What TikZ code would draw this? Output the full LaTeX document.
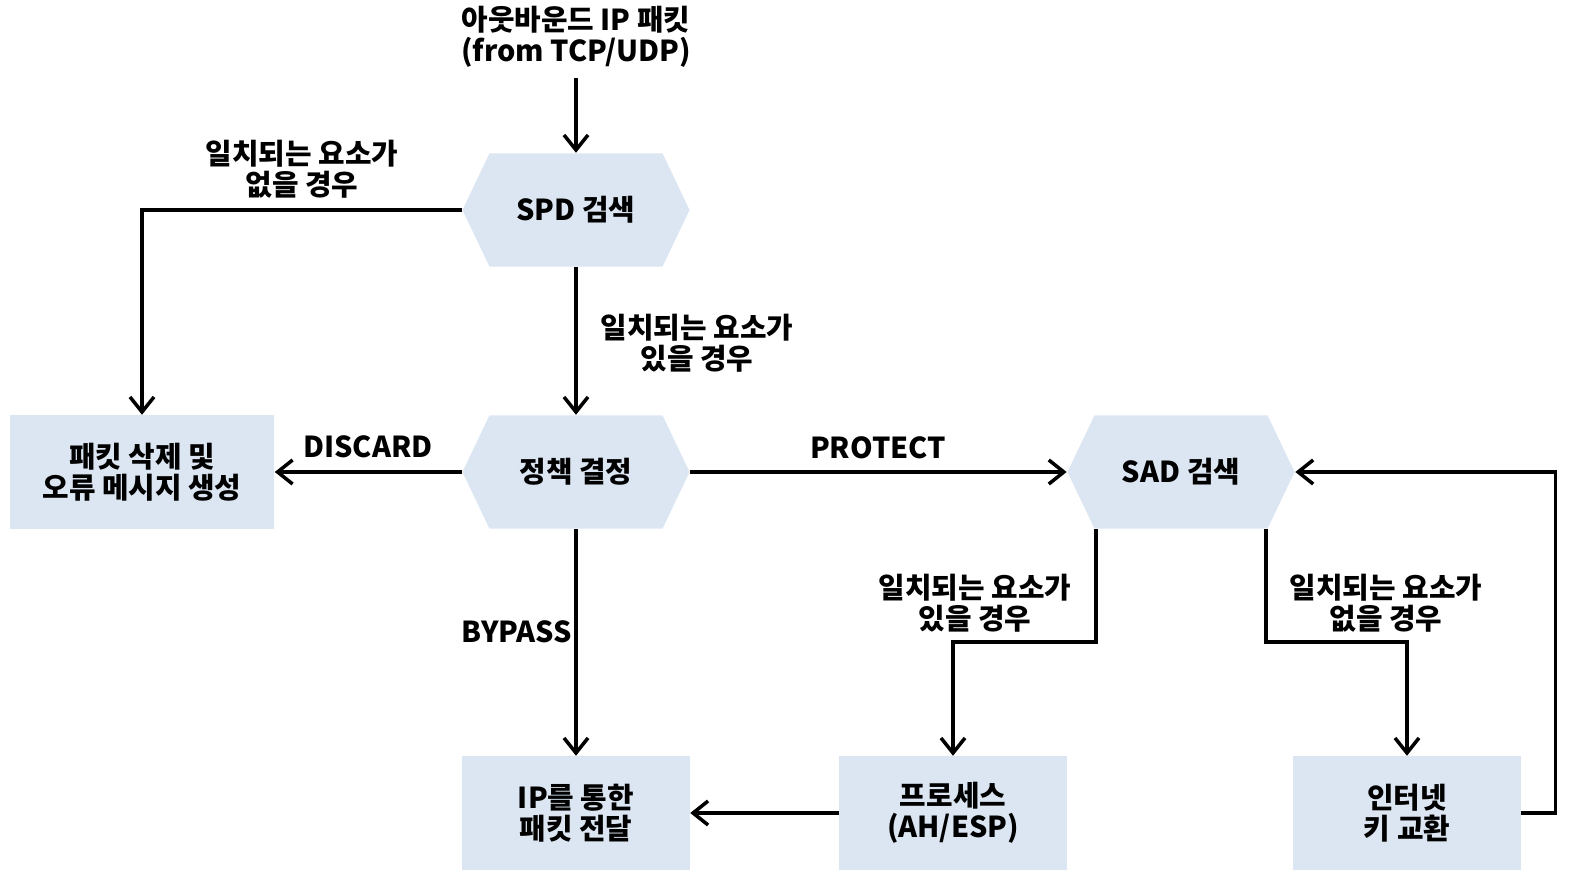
\documentclass[tikz,border=0pt]{standalone}
\usepackage{fontspec}
\setmainfont{Noto Sans CJK KR}
\usetikzlibrary{arrows.meta}
\usetikzlibrary{shapes.symbols}
\usetikzlibrary{positioning}
\usetikzlibrary{calc}
\definecolor{boxblue}{RGB}{220,230,242}

\begin{document}
\begin{tikzpicture}[
    x = 0.01cm, y = -0.01cm,
    >={Straight Barb[length=1.5mm, width=2.4mm]},
    every node/.style = {font = \bfseries\fontsize{8.2}{8.8}\selectfont, align = center},
    hexa/.style = {
        signal, signal to = west and east, signal pointer angle = 129,
        fill = boxblue, minimum width = 2.27cm, minimum height = 1.13cm,
        inner sep = 0pt
    },
    box/.style = {
        rectangle, fill = boxblue,
        minimum width = 2.27cm, minimum height = 1.13cm
    },
    flow/.style = {black, line width = 1pt, ->},
  ]
  \useasboundingbox (0,0) rectangle (1569,869);

  % nodes
  \node (title) at (576,37) {아웃바운드 IP 패킷\\(from TCP/UDP)};
  \coordinate (start) at (576,78);

  \node[hexa] (spd) at (576,210) {SPD 검색};
  \node[hexa] (policy) at (576,472) {정책 결정};
  \node[hexa] (sad) at (1181,472) {SAD 검색};

  \node[box, minimum width = 2.64cm] (drop) at (142,472) {패킷 삭제 및\\오류 메시지 생성};
  \node[box] (ipout) at (576,813) {IP를 통한\\패킷 전달};
  \node[box] (proc) at (953,813) {프로세스\\(AH/ESP)};
  \node[box] (ike) at (1407,813) {인터넷\\키 교환};

  % connectors
  \draw[flow] (start) -- (spd.north);
  \draw[flow] (spd.west) -| (drop.north);
  \draw[flow] (spd.south) -- (policy.north);
  \draw[flow] (policy.west) -- (drop.east);
  \draw[flow] (policy.east) -- (sad.west);
  \draw[flow] (policy.south) -- (ipout.north);
  \draw[flow] ($(sad.south)+(-85,0)$) -- ++(0,113) -| (proc.north);
  \draw[flow] ($(sad.south)+(85,0)$) -- ++(0,113) -| (ike.north);
  \draw[flow] (proc.west) -- (ipout.east);
  \draw[flow] (ike.east) -- ++(34,0) |- (sad.east);

  % labels
  \node (spdno) at (302,169) {일치되는 요소가\\없을 경우};
  \node (spdyes) at (697,343) {일치되는 요소가\\있을 경우};
  \node (discard) at (368,447) {DISCARD};
  \node (protect) at (878,448) {PROTECT};
  \node (bypass) at (517,632) {BYPASS};
  \node (sadyes) at (975,603) {일치되는 요소가\\있을 경우};
  \node (sadno) at (1386,603) {일치되는 요소가\\없을 경우};
\end{tikzpicture}
\end{document}
